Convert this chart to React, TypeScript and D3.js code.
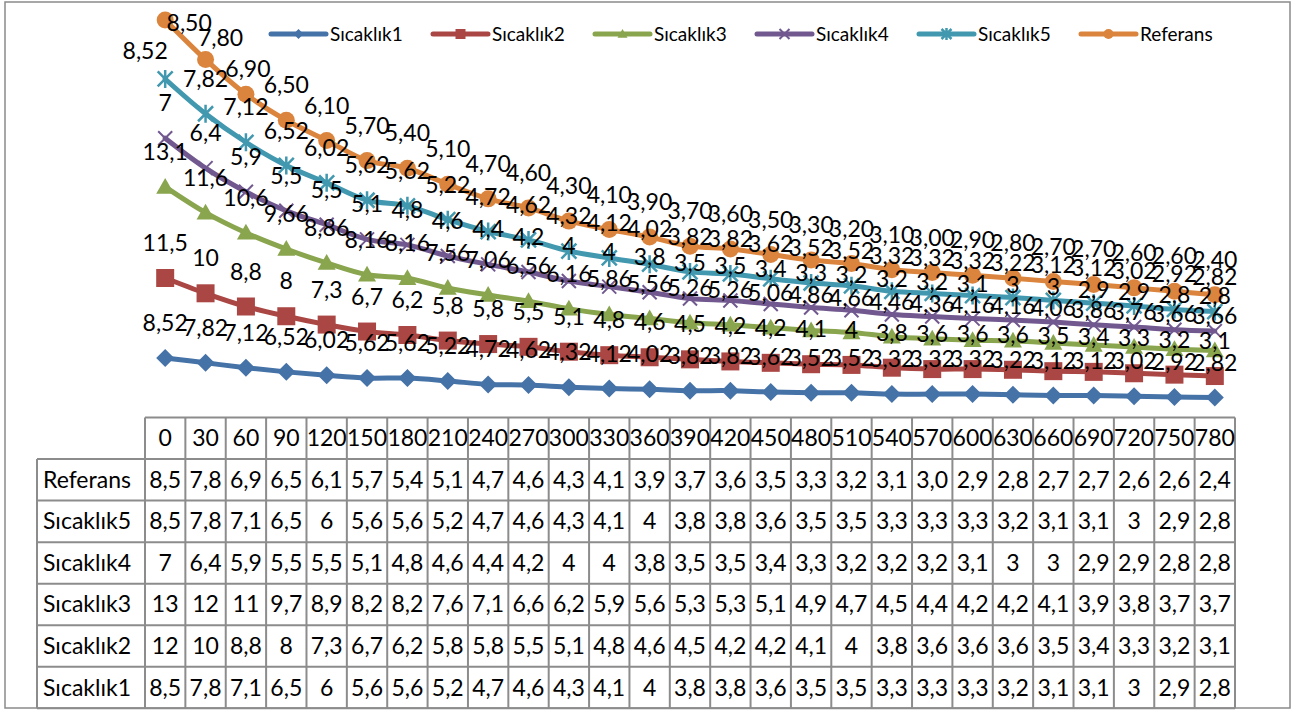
import React from 'react';
import * as d3 from 'd3';

// Elapsed time (minutes) for each reading
const minutes = [0, 30, 60, 90, 120, 150, 180, 210, 240, 270, 300, 330, 360, 390, 420, 450, 480, 510, 540, 570, 600, 630, 660, 690, 720, 750, 780];

const sicaklik1 = [8.52, 7.82, 7.12, 6.52, 6.02, 5.62, 5.62, 5.22, 4.72, 4.62, 4.32, 4.12, 4.02, 3.82, 3.82, 3.62, 3.52, 3.52, 3.32, 3.32, 3.32, 3.22, 3.12, 3.12, 3.02, 2.92, 2.82];
const sicaklik2 = [11.5, 10, 8.8, 8, 7.3, 6.7, 6.2, 5.8, 5.8, 5.5, 5.1, 4.8, 4.6, 4.5, 4.2, 4.2, 4.1, 4, 3.8, 3.6, 3.6, 3.6, 3.5, 3.4, 3.3, 3.2, 3.1];
const sicaklik3 = [13.1, 11.6, 10.6, 9.66, 8.86, 8.16, 8.16, 7.56, 7.06, 6.56, 6.16, 5.86, 5.56, 5.26, 5.26, 5.06, 4.86, 4.66, 4.46, 4.36, 4.16, 4.16, 4.06, 3.86, 3.76, 3.66, 3.66];
const sicaklik4 = [7, 6.4, 5.9, 5.5, 5.5, 5.1, 4.8, 4.6, 4.4, 4.2, 4, 4, 3.8, 3.5, 3.5, 3.4, 3.3, 3.2, 3.2, 3.2, 3.1, 3, 3, 2.9, 2.9, 2.8, 2.8];
const sicaklik5 = [8.52, 7.82, 7.12, 6.52, 6.02, 5.62, 5.62, 5.22, 4.72, 4.62, 4.32, 4.12, 4.02, 3.82, 3.82, 3.62, 3.52, 3.52, 3.32, 3.32, 3.32, 3.22, 3.12, 3.12, 3.02, 2.92, 2.82];
const referans = [8.5, 7.8, 6.9, 6.5, 6.1, 5.7, 5.4, 5.1, 4.7, 4.6, 4.3, 4.1, 3.9, 3.7, 3.6, 3.5, 3.3, 3.2, 3.1, 3.0, 2.9, 2.8, 2.7, 2.7, 2.6, 2.6, 2.4];

const seriesNames = ['Sıcaklık1', 'Sıcaklık2', 'Sıcaklık3', 'Sıcaklık4', 'Sıcaklık5', 'Referans'];
const seriesValues = [sicaklik1, sicaklik2, sicaklik3, sicaklik4, sicaklik5, referans];
const seriesColors = ['#4572A7', '#AA4643', '#89A54E', '#71588F', '#4198AF', '#DB843D'];
const seriesMarkers = ['diamond', 'square', 'triangle', 'x', 'star', 'circle'];
// Referans is shown with two fixed decimals, the rest in general format
const fixedDecimals = [false, false, false, false, false, true];
// Data table rows run from the top series down
const tableOrder = [5, 4, 3, 2, 1, 0];

const W = 1292;
const H = 711;
const plotLeft = 145;
const plotRight = 1235;
const plotBottom = 417.2;
const tableTop = 417.5;
const tableBottom = 708.3;
const labelColLeft = 37;
const rowH = (tableBottom - tableTop) / 7;
const FONT = 'Lato, "Open Sans", sans-serif';

// Hand-nudged labels near the top edge: [dx, dy]
const labelNudge: Record<string, [number, number]> = {
  '5-0': [24, 38],
  '5-1': [15, 13],
  '5-2': [2, 10],
  '4-0': [-20, 7],
};

const comma = (s: string) => s.replace('.', ',');

function labelText(v: number, k: number) {
  return comma(fixedDecimals[k] ? v.toFixed(2) : String(v));
}

function cellText(v: number, k: number) {
  if (fixedDecimals[k]) return comma(v.toFixed(1));
  for (const d of [2, 1, 0]) {
    let s = v.toFixed(d);
    if (s.includes('.')) s = s.replace(/0+$/, '').replace(/\.$/, '');
    if (s.length <= 3) return comma(s);
  }
  return comma(v.toFixed(0));
}

function Marker({ type, color, s }: { type: string; color: string; s: number }) {
  switch (type) {
    case 'diamond':
      return <path d={`M0,${-s}L${s},0L0,${s}L${-s},0Z`} fill={color} />;
    case 'square':
      return <path d={`M${-s},${-s}h${2 * s}v${2 * s}h${-2 * s}Z`} fill={color} />;
    case 'triangle':
      return <path d={`M0,${-s}L${s},${s * 0.75}L${-s},${s * 0.75}Z`} fill={color} />;
    case 'x':
      return <path d={`M${-s},${-s}L${s},${s}M${-s},${s}L${s},${-s}`} stroke={color} strokeWidth={2} fill="none" />;
    case 'star':
      return (
        <path
          d={`M${-s},${-s}L${s},${s}M${-s},${s}L${s},${-s}M0,${-s * 1.2}L0,${s * 1.2}`}
          stroke={color}
          strokeWidth={2.5}
          fill="none"
        />
      );
    default:
      return <circle r={s} fill={color} />;
  }
}

export default function App() {
  const rows = minutes.map((m, i) => {
    const o: Record<string, number> = { minute: m };
    seriesNames.forEach((n, k) => (o[n] = seriesValues[k][i]));
    return o;
  });
  const stacked = d3.stack<Record<string, number>>().keys(seriesNames)(rows);

  const x = d3.scaleBand<string>().domain(minutes.map(String)).range([plotLeft, plotRight]);
  const bw = x.bandwidth();
  const cx = (m: number) => (x(String(m)) as number) + bw / 2;
  const y = d3.scaleLinear().domain([0, 60]).range([plotBottom, 0]);

  const line = d3
    .line<[number, number]>()
    .x((d) => d[0])
    .y((d) => d[1])
    .curve(d3.curveCatmullRom.alpha(0.5));

  const pts = stacked.map((layer) => layer.map((d, i) => [cx(minutes[i]), y(d[1])] as [number, number]));

  const legendX = (k: number) => 271 + k * 162;

  return (
    <svg
      width={W}
      height={H}
      style={{ position: 'absolute', left: 0, top: 0, background: '#fff' }}
      fontFamily={FONT}
    >
      <rect x={0} y={0} width={W} height={H} fill="#fff" />
      {/* chart border */}
      <rect x={5} y={2} width={1285} height={706} fill="none" stroke="#8a8a8a" strokeWidth={1.5} />

      {/* series lines */}
      {pts.map((p, k) => (
        <path
          key={`l${k}`}
          d={line(p) || ''}
          fill="none"
          stroke={seriesColors[k]}
          strokeWidth={5}
          strokeLinejoin="round"
          strokeLinecap="round"
        />
      ))}
      {/* markers */}
      {pts.map((p, k) => (
        <g key={`m${k}`}>
          {p.map((q, i) => (
            <g key={i} transform={`translate(${q[0]},${q[1]})`}>
              <Marker
                type={seriesMarkers[k]}
                color={seriesColors[k]}
                s={seriesMarkers[k] === 'x' ? 7 : seriesMarkers[k] === 'circle' ? 8.5 : seriesMarkers[k] === 'star' ? 7.5 : 9}
              />
            </g>
          ))}
        </g>
      ))}
      {/* data labels */}
      {pts.map((p, k) => (
        <g key={`t${k}`} fontSize={23} fill="#000" textAnchor="middle">
          {p.map((q, i) => {
            const n = labelNudge[`${k}-${i}`] || [0, 0];
            return (
              <text key={i} x={q[0] + n[0]} y={q[1] - 35 + n[1]} dy="0.35em">
                {labelText(seriesValues[k][i], k)}
              </text>
            );
          })}
        </g>
      ))}

      {/* legend */}
      {seriesNames.map((n, k) => {
        const lx = legendX(k);
        return (
          <g key={`lg${k}`}>
            <line x1={lx} x2={lx + 55} y1={34} y2={34} stroke={seriesColors[k]} strokeWidth={5} strokeLinecap="round" />
            <g transform={`translate(${lx + 27.5},34)`}>
              <Marker type={seriesMarkers[k]} color={seriesColors[k]} s={5} />
            </g>
            <text x={lx + 59} y={34} dy="0.35em" fontSize={19} fill="#000">
              {n}
            </text>
          </g>
        );
      })}

      {/* data table */}
      <g stroke="#8c8c8c" strokeWidth={2}>
        <line x1={plotLeft} x2={plotRight} y1={tableTop} y2={tableTop} />
        {d3.range(1, 8).map((r) => (
          <line key={`h${r}`} x1={labelColLeft} x2={plotRight} y1={tableTop + r * rowH} y2={tableTop + r * rowH} />
        ))}
        <line x1={labelColLeft} x2={labelColLeft} y1={tableTop + rowH} y2={tableBottom} />
        {d3.range(0, minutes.length + 1).map((c) => (
          <line key={`v${c}`} x1={plotLeft + c * bw} x2={plotLeft + c * bw} y1={tableTop} y2={tableBottom} />
        ))}
      </g>
      <g fontSize={23} fill="#000">
        {minutes.map((m) => (
          <text key={`hd${m}`} x={cx(m)} y={tableTop + rowH / 2} dy="0.35em" textAnchor="middle">
            {m}
          </text>
        ))}
        {tableOrder.map((k, r) => (
          <g key={`row${k}`}>
            <text x={43} y={tableTop + (r + 1.5) * rowH} dy="0.35em">
              {seriesNames[k]}
            </text>
            {minutes.map((m, i) => (
              <text key={i} x={cx(m)} y={tableTop + (r + 1.5) * rowH} dy="0.35em" textAnchor="middle">
                {cellText(seriesValues[k][i], k)}
              </text>
            ))}
          </g>
        ))}
      </g>
    </svg>
  );
}
